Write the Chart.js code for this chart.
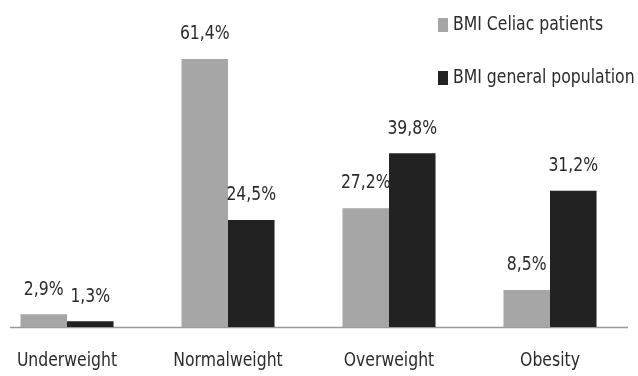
<!DOCTYPE html>
<html>
<head>
<meta charset="utf-8">
<script src="https://cdn.jsdelivr.net/npm/chart.js@4/dist/chart.umd.min.js"></script>
<style>
  html, body { margin: 0; padding: 0; background: #fff; overflow: hidden; }
  body { width: 638px; height: 376px; position: relative; }
  /* the canvas runs slightly past the left edge so the first group sits close to it */
  #wrap { position: absolute; left: -14px; top: 0; width: 660px; height: 376px; }
</style>
</head>
<body>
<div id="wrap"><canvas id="c"></canvas></div>
<script>
// BMI distribution: celiac patients vs. general population (%)
const categories = ['Underweight', 'Normalweight', 'Overweight', 'Obesity'];
const seriesNames = ['BMI Celiac patients', 'BMI general population'];
const celiacValues = [2.9, 61.4, 27.2, 8.5];
const generalValues = [1.3, 24.5, 39.8, 31.2];

const SHIFT = 14;                // canvas offset to the left of the page
const FONT = '20px "DejaVu Sans Condensed", "Liberation Sans", sans-serif';
const SQUEEZE = 0.87;            // horizontal compression for a narrow look
const TEXT = '#2b2b2b';
const COLORS = ['#a6a6a6', '#222222'];

const fmt = v => v.toFixed(1).replace('.', ',') + '%';

// narrow text helper: draws real text, compressed horizontally
function narrowText(ctx, str, x, y, align) {
  ctx.save();
  ctx.translate(x, y);
  ctx.scale(SQUEEZE, 1);
  ctx.textAlign = align;
  ctx.fillText(str, 0, 0);
  ctx.restore();
}

// value labels above each bar
const valueLabels = {
  id: 'valueLabels',
  afterDatasetsDraw(chart) {
    const ctx = chart.ctx;
    ctx.save();
    ctx.font = FONT;
    ctx.fillStyle = TEXT;
    ctx.textBaseline = 'middle';
    chart.data.datasets.forEach((ds, di) => {
      chart.getDatasetMeta(di).data.forEach((bar, i) => {
        narrowText(ctx, fmt(ds.data[i]), bar.x, bar.y - 25, 'center');
      });
    });
    ctx.restore();
  }
};

// category names under the baseline
const categoryLabels = {
  id: 'categoryLabels',
  afterDraw(chart) {
    const ctx = chart.ctx;
    const xs = chart.scales.x;
    const y = chart.scales.y.getPixelForValue(0) + 34;
    ctx.save();
    ctx.font = FONT;
    ctx.fillStyle = TEXT;
    ctx.textBaseline = 'middle';
    chart.data.labels.forEach((lab, i) => {
      narrowText(ctx, lab, xs.getPixelForValue(i), y, 'center');
    });
    ctx.restore();
  }
};

// horizontal baseline at zero
const baseline = {
  id: 'baseline',
  beforeDatasetsDraw(chart) {
    const ctx = chart.ctx;
    const y = Math.round(chart.scales.y.getPixelForValue(0)) + 0.5;
    ctx.save();
    ctx.strokeStyle = '#9a9a9a';
    ctx.lineWidth = 1.5;
    ctx.beginPath();
    ctx.moveTo(10 + SHIFT, y);
    ctx.lineTo(628 + SHIFT, y);
    ctx.stroke();
    ctx.restore();
  }
};

// legend in the top-right corner, one entry per row
const cornerLegend = {
  id: 'cornerLegend',
  afterDraw(chart) {
    const ctx = chart.ctx;
    ctx.save();
    ctx.font = FONT;
    ctx.textBaseline = 'middle';
    chart.data.datasets.forEach((ds, i) => {
      const cy = 25 + i * 53;
      ctx.fillStyle = ds.backgroundColor;
      ctx.fillRect(438 + SHIFT, cy - 7, 10, 14);
      ctx.fillStyle = TEXT;
      narrowText(ctx, ds.label, 453 + SHIFT, cy, 'left');
    });
    ctx.restore();
  }
};

new Chart(document.getElementById('c'), {
  type: 'bar',
  data: {
    labels: categories,
    datasets: [
      { label: seriesNames[0], data: celiacValues, backgroundColor: COLORS[0] },
      { label: seriesNames[1], data: generalValues, backgroundColor: COLORS[1] }
    ]
  },
  options: {
    responsive: true,
    maintainAspectRatio: false,
    animation: false,
    devicePixelRatio: 1,
    layout: { padding: { left: 0.5, right: 15.5, top: 21.5, bottom: 49 } },
    datasets: { bar: { categoryPercentage: 0.578, barPercentage: 1 } },
    plugins: { legend: { display: false }, tooltip: { enabled: false } },
    scales: {
      x: { display: false },
      y: { display: false, min: 0, max: 70 }
    }
  },
  plugins: [baseline, valueLabels, categoryLabels, cornerLegend]
});
</script>
</body>
</html>
